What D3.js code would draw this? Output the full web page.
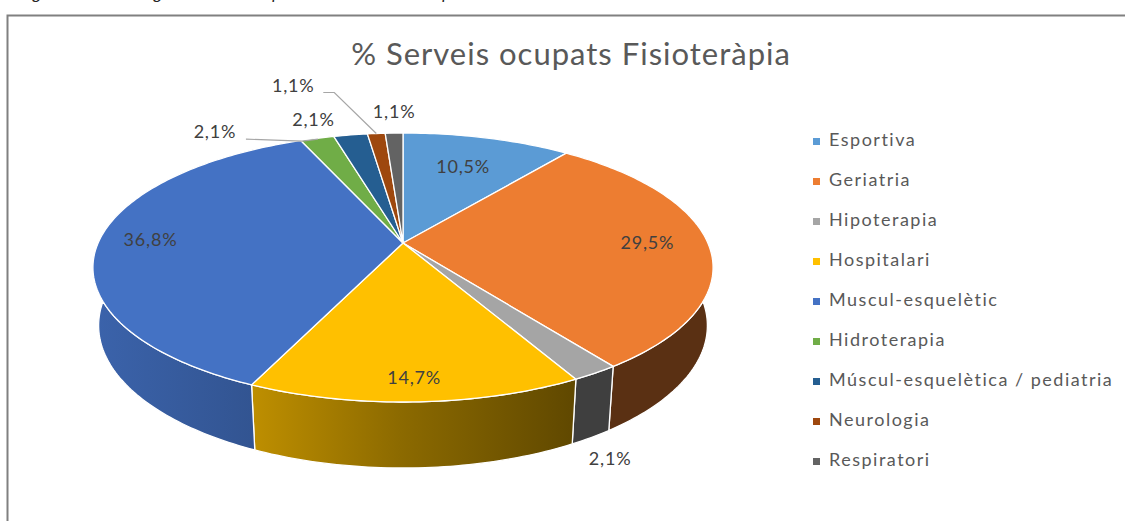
<!DOCTYPE html>
<html>
<head>
<meta charset="utf-8">
<script src="https://cdn.jsdelivr.net/npm/d3@7"></script>
<style>
  html, body { margin: 0; padding: 0; background: #fff; overflow: hidden; }
  svg { display: block; font-family: Lato, "Open Sans", sans-serif; }
</style>
</head>
<body>
<div id="chart"></div>
<script>
// Chart data
const categories = ["Esportiva", "Geriatria", "Hipoterapia", "Hospitalari", "Muscul-esquelètic",
  "Hidroterapia", "Múscul-esquelètica / pediatria", "Neurologia", "Respiratori"];
const values = [10.5, 29.5, 2.1, 14.7, 36.8, 2.1, 2.1, 1.1, 1.1];
const labels = ["10,5%", "29,5%", "2,1%", "14,7%", "36,8%", "2,1%", "2,1%", "1,1%", "1,1%"];
const colors = ["#5B9BD5", "#ED7D31", "#A5A5A5", "#FFC000", "#4472C4",
  "#70AD47", "#255E91", "#9E480E", "#636363"];
const title = "% Serveis ocupats Fisioteràpia";

const width = 1125, height = 521;

// 3D projection of the pie disk (radius 1, thickness H)
const cx = 403, cy = 243, focal = 1514, dist = 4.966, H = 0.2106;
const tilt = Math.asin(0.4265);
const ct = Math.cos(tilt), st = Math.sin(tilt);

function project(theta, r, y) {
    const X = r * Math.sin(theta), Z = r * Math.cos(theta);
    const Y2 = y * ct + Z * st;
    const Z2 = Z * ct - y * st;
    return [cx + focal * X / (dist + Z2), cy - focal * Y2 / (dist + Z2)];
}

const svg = d3.select("#chart").append("svg")
    .attr("width", width)
    .attr("height", height)
    .attr("viewBox", [0, 0, width, height]);

// caption of the page above (cut off), and the chart frame
svg.append("text")
    .attr("x", 20).attr("y", -1)
    .attr("font-style", "italic")
    .attr("font-size", 17)
    .attr("fill", "#222")
    .text("Figura 9. Percentatge de serveis ocupats a l'àrea de Fisioteràpia");

svg.append("path")
    .attr("d", `M7.5,${height} V15.5 H${width}`)
    .attr("fill", "none")
    .attr("stroke", "#808080")
    .attr("stroke-width", 2);

svg.append("text")
    .attr("x", 571).attr("y", 65)
    .attr("text-anchor", "middle")
    .attr("font-size", 31)
    .attr("letter-spacing", 1)
    .attr("fill", "#595959")
    .text(title);

const color = d3.scaleOrdinal().domain(categories).range(colors);

const pie = d3.pie().sort(null).value(d => d.value)
    .startAngle(0).endAngle(2 * Math.PI);
const arcs = pie(categories.map((c, i) => ({ name: c, value: values[i], label: labels[i] })));

const line = d3.line();
const step = Math.PI / 180;

function rim(a0, a1, y, reverse) {
    const n = Math.max(2, Math.ceil((a1 - a0) / step));
    const pts = d3.range(n + 1).map(k => project(a0 + (a1 - a0) * k / n, 1, y));
    return reverse ? pts.reverse() : pts;
}

// side shading: lighter on the left, darker on the right
const shadeX = [93, 255, 400, 570, 713];
const shade = d3.scaleLinear().domain(shadeX).range([0.87, 0.74, 0.55, 0.38, 0.38]);

const defs = svg.append("defs");
arcs.forEach((a, i) => {
    const g = defs.append("linearGradient")
        .attr("id", `side-${i}`)
        .attr("gradientUnits", "userSpaceOnUse")
        .attr("x1", shadeX[0]).attr("x2", shadeX[shadeX.length - 1])
        .attr("y1", 0).attr("y2", 0);
    const base = d3.rgb(color(a.data.name));
    shadeX.forEach(x => {
        const f = shade(x);
        g.append("stop")
            .attr("offset", (x - shadeX[0]) / (shadeX[shadeX.length - 1] - shadeX[0]))
            .attr("stop-color", d3.rgb(base.r * f, base.g * f, base.b * f).formatHex());
    });
});

const pieG = svg.append("g");

// outer walls (front half only)
const lo = 70 * step, hi = 290 * step;
pieG.append("g").selectAll("path")
    .data(arcs.filter(a => Math.min(a.endAngle, hi) > Math.max(a.startAngle, lo)))
    .join("path")
    .attr("d", a => {
        const a0 = Math.max(a.startAngle, lo), a1 = Math.min(a.endAngle, hi);
        return line(rim(a0, a1, 0).concat(rim(a0, a1, -H, true))) + "Z";
    })
    .attr("fill", a => `url(#side-${a.index})`)
    .attr("stroke", "#fff")
    .attr("stroke-width", 1.3)
    .attr("stroke-linejoin", "round");

// top faces
pieG.append("g").selectAll("path")
    .data(arcs)
    .join("path")
    .attr("d", a => line([project(0, 0, 0)].concat(rim(a.startAngle, a.endAngle, 0))) + "Z")
    .attr("fill", a => color(a.data.name))
    .attr("stroke", "#fff")
    .attr("stroke-width", 1.3)
    .attr("stroke-linejoin", "round");

// data labels: r = radial position, y = height on the disk, dx/dy = offset, leader = elbow line
const labelLayout = [
    { r: 0.68, y: 0, dx: 0, dy: 0 },
    { r: 0.8, y: 0, dx: 0, dy: 0 },
    { r: 1, y: -H, dx: 19, dy: 23 },
    { r: 0.884, y: 0, dx: 0, dy: 0 },
    { r: 0.83, y: 0, dx: 0, dy: 0 },
    { r: 0.99, y: 0, dx: -103, dy: -6, leader: [31, 6, -16, 2] },
    { r: 1, y: 0, dx: -37, dy: -14 },
    { r: 1, y: 0, dx: -83, dy: -46, leader: [30, 5, -42, -41] },
    { r: 1, y: 0, dx: 0, dy: -20 }
];

const labelG = svg.append("g");
arcs.forEach((a, i) => {
    const L = labelLayout[i];
    const mid = (a.startAngle + a.endAngle) / 2;
    const [ax, ay] = project(mid, L.r, L.y);
    const tx = ax + L.dx, ty = ay + L.dy;
    if (L.leader) {
        const [sx, sy, ex, ey] = L.leader;
        labelG.append("path")
            .attr("d", line([[tx + sx, ty + sy], [ax + ex, ay + ey], [ax, ay]]))
            .attr("fill", "none")
            .attr("stroke", "#a6a6a6")
            .attr("stroke-width", 1.2);
    }
    labelG.append("text")
        .attr("x", tx).attr("y", ty)
        .attr("text-anchor", "middle")
        .attr("dominant-baseline", "middle")
        .attr("font-size", 18)
        .attr("letter-spacing", 0.8)
        .attr("fill", "#404040")
        .text(a.data.label);
});

// legend
const legend = svg.append("g").attr("transform", "translate(813,141.5)");
const rows = legend.selectAll("g")
    .data(categories)
    .join("g")
    .attr("transform", (d, i) => `translate(0,${i * 40})`);
rows.append("rect")
    .attr("x", 0).attr("y", -3.5)
    .attr("width", 7).attr("height", 7)
    .attr("fill", d => color(d));
rows.append("text")
    .attr("x", 16).attr("y", 0)
    .attr("dominant-baseline", "middle")
    .attr("font-size", 18)
    .attr("letter-spacing", 1.5)
    .attr("fill", "#595959")
    .text(d => d);
</script>
</body>
</html>
